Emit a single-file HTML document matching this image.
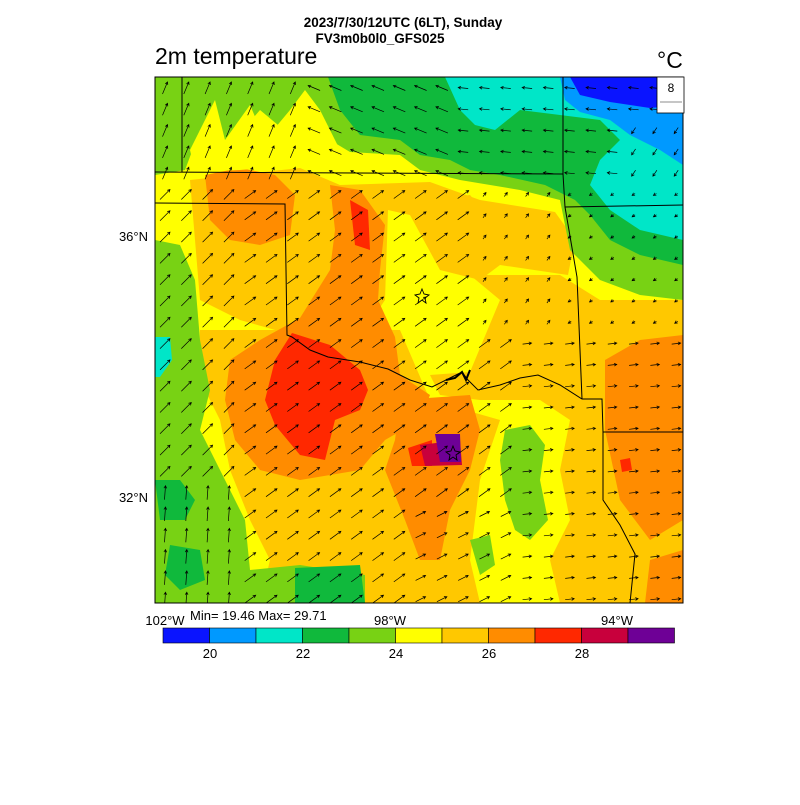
<!DOCTYPE html>
<html><head><style>
body{margin:0;background:#fff;width:800px;height:800px;overflow:hidden;font-family:"Liberation Sans",sans-serif}
</style></head><body>
<svg id="s" width="800" height="800" xmlns="http://www.w3.org/2000/svg" font-family="Liberation Sans, sans-serif">
<defs><clipPath id="c"><rect x="155" y="77" width="528" height="526"/></clipPath></defs>
<g clip-path="url(#c)">
<rect x="155" y="77" width="528" height="526" fill="#ffff00"/>
<!-- light orange -->
<path d="M190 180 L300 168 L340 185 L430 182 L480 200 L555 212 L575 240 L568 275 L500 265 L480 280 L440 270 L410 215 L388 210 L385 300 L360 337 L300 337 L240 320 L200 300 L195 240Z" fill="#ffc800"/>
<path d="M470 275 L560 275 L600 300 L683 300 L683 603 L560 603 L550 560 L570 520 L560 470 L570 420 L540 400 L480 400 L440 395 L430 375 L470 372 L500 300Z" fill="#ffc800"/>
<path d="M200 330 L400 330 L430 400 L500 420 L480 480 L470 560 L480 603 L260 603 L270 560 L250 520 L230 470 L220 420 L200 380Z" fill="#ffc800"/>
<path d="M430 200 L470 195 L500 230 L480 250 L440 245Z" fill="#ffc800"/>
<!-- orange -->
<path d="M205 175 L240 168 L275 175 L295 195 L290 235 L260 245 L230 240 L210 220Z" fill="#ff8c00"/>
<path d="M330 185 L360 190 L385 225 L380 270 L378 300 L395 337 L400 375 L430 395 L420 420 L385 440 L360 470 L300 480 L260 470 L235 440 L225 400 L230 360 L260 340 L300 318 L330 270 L335 230Z" fill="#ff8c00"/>
<path d="M400 400 L470 395 L480 430 L470 470 L450 510 L440 560 L420 560 L405 520 L385 470 L395 440Z" fill="#ff8c00"/>
<path d="M605 360 L640 340 L683 335 L683 520 L650 540 L620 500 L605 430Z" fill="#ff8c00"/>
<path d="M650 560 L683 550 L683 603 L645 603Z" fill="#ff8c00"/>
<!-- top greens -->
<path d="M155 77 L683 77 L683 300 L640 295 L600 280 L570 250 L560 200 L520 190 L460 180 L420 170 L400 155 L350 152 L330 140 L310 115 L290 135 L260 110 L230 145 L200 130 L185 170 L155 175Z" fill="#78d214"/>
<path d="M328 77 L683 77 L683 265 L640 255 L610 240 L590 215 L575 200 L545 185 L500 175 L470 170 L450 160 L420 155 L400 140 L360 135 L340 110Z" fill="#10b93c"/>
<path d="M445 77 L683 77 L683 240 L640 230 L610 210 L590 185 L600 160 L620 140 L600 120 L560 115 L520 110 L495 130 L475 125 L460 110Z" fill="#00e6c8"/>
<path d="M560 77 L683 77 L683 165 L660 150 L630 135 L610 120 L580 112 L565 100Z" fill="#0099ff"/>
<path d="M570 77 L683 77 L683 105 L650 108 L610 102 L580 95Z" fill="#0a14ff"/>
<!-- yellow fingers in top-left -->
<path d="M190 150 L215 100 L225 140 L250 105 L265 140 L290 110 L305 90 L320 110 L335 140 L345 160 L300 165 L240 170 L195 172Z" fill="#ffff00"/>
<!-- left greens -->
<path d="M155 240 L180 245 L195 280 L200 340 L210 390 L200 430 L220 470 L245 520 L250 570 L300 565 L365 575 L365 603 L155 603Z" fill="#78d214"/>
<path d="M155 480 L180 480 L195 500 L185 520 L160 520Z" fill="#10b93c"/>
<path d="M170 545 L200 550 L205 580 L180 590 L165 575Z" fill="#10b93c"/>
<path d="M295 568 L360 565 L365 603 L295 603Z" fill="#10b93c"/>
<path d="M155 337 L170 337 L172 360 L160 377 L155 377Z" fill="#00e6c8"/>
<path d="M155 360 L175 360 L175 380 L155 380Z" fill="#10b93c" opacity="0"/>
<!-- east-center green specks -->
<path d="M505 430 L530 425 L545 445 L540 480 L548 520 L530 540 L515 530 L505 500 L500 460Z" fill="#78d214"/>
<path d="M470 540 L490 535 L495 565 L480 575Z" fill="#78d214"/>
<!-- red -->
<path d="M292 333 L330 345 L360 370 L368 390 L360 410 L335 420 L325 460 L300 455 L275 425 L265 400 L275 360Z" fill="#ff2800"/>
<path d="M350 200 L368 210 L370 250 L355 245Z" fill="#ff2800"/>
<path d="M620 460 L630 458 L632 470 L622 472Z" fill="#ff2800"/>
<path d="M408 448 L432 440 L432 466 L412 466Z" fill="#ff2800"/>
<path d="M420 445 L460 440 L462 465 L425 466Z" fill="#c8003c"/>
<path d="M435 434 L460 434 L461 462 L440 462Z" fill="#6e0096"/>
</g>
<g id="arr" clip-path="url(#c)" stroke="#000" stroke-width="0.7" fill="none"></g>
<g stroke="#000" stroke-width="1" fill="none" clip-path="url(#c)">
<path d="M182 77 L182 172"/>
<path d="M155 172 L563 174 L563 77"/>
<path d="M563 174 L565 207 L683 205"/>
<path d="M155 203 L285 204 L287 335 L292 337 L310 350 L328 357 L360 362 L388 369 L410 380 L432 387 L450 378 L462 372 L468 380 L478 390 L500 385 L520 378 L538 375 L560 385 L582 399 L602 399 L603 432 L683 432"/>
<path d="M582 399 L577 277 L565 207"/>
<path d="M603 432 L603 500 L620 525 L635 554 L630 603"/>
</g>
<g stroke="#000" stroke-width="2" fill="none"><path d="M446 380 L455 378 L462 372 L466 380 L470 370"/></g>
<g fill="none" stroke="#000" stroke-width="0.9">
<path d="M422 289 L424 294 L429 295 L425 298 L426 303 L422 300 L418 303 L419 298 L415 295 L420 294Z"/>
<path d="M453 446 L455 451 L460 452 L456 455 L457 460 L453 457 L449 460 L450 455 L446 452 L451 451Z"/>
</g>
<rect x="155" y="77" width="528" height="526" fill="none" stroke="#000" stroke-width="1"/>
<rect x="657" y="77" width="27" height="36" fill="#fff" stroke="#000" stroke-width="0.8"/>
<text x="671" y="92" font-size="12" text-anchor="middle">8</text>
<line x1="660" y1="102" x2="682" y2="102" stroke="#666" stroke-width="0.8"/>
<text x="403" y="27" font-size="13.5" font-weight="bold" text-anchor="middle">2023/7/30/12UTC (6LT), Sunday</text>
<text x="380" y="43" font-size="13.5" font-weight="bold" text-anchor="middle">FV3m0b0l0_GFS025</text>
<text x="155" y="64" font-size="23">2m temperature</text>
<text x="657" y="68" font-size="23">°C</text>
<text x="148" y="241" font-size="13" text-anchor="end">36°N</text>
<text x="148" y="502" font-size="13" text-anchor="end">32°N</text>
<text x="165" y="625" font-size="13" text-anchor="middle">102°W</text>
<text x="390" y="625" font-size="13" text-anchor="middle">98°W</text>
<text x="617" y="625" font-size="13" text-anchor="middle">94°W</text>
<text x="190" y="620" font-size="13">Min= 19.46 Max= 29.71</text>
<g id="cb" stroke="#000" stroke-width="0.6"></g>
<g font-size="13" text-anchor="middle">
<text x="210" y="658">20</text><text x="303" y="658">22</text><text x="396" y="658">24</text><text x="489" y="658">26</text><text x="582" y="658">28</text>
</g>
</svg>
<script>
var ns="http://www.w3.org/2000/svg";
var cols=["#0a14ff","#0099ff","#00e6c8","#10b93c","#78d214","#ffff00","#ffc800","#ff8c00","#ff2800","#c8003c","#6e0096"];
var cb=document.getElementById("cb");
for(var i=0;i<11;i++){var r=document.createElementNS(ns,"rect");r.setAttribute("x",163+i*46.5);r.setAttribute("y",628);r.setAttribute("width",46.5);r.setAttribute("height",15);r.setAttribute("fill",cols[i]);cb.appendChild(r);}
function field(x,y){
 // returns [u,v] in px (v positive = down)
 var u,v;
 if(x>300&&y<190){ // westward flow
   var s=(x<450)?12:10; u=-s; v=(x<450)?-5:-1; if(x>620&&y>130){u=-4;v=6;}
 } else if(y<190){u=5;v=-12;}
 else if(x>480&&y<330){u=(x>560?-3:3);v=(x>560?2:-4);}
 else if(x>520){u=9;v=-1;}
 else if(x<250&&y>480){u=1;v=-14;}
 else {u=11;v=-8; if(x<250){u=10;v=-10;} if(y>500&&x>400){u=10;v=-5;}}
 return [u,v];
}
var g=document.getElementById("arr"),d="";
for(var y=88;y<603;y+=21.3)for(var x=165;x<683;x+=21.3){
 var f=field(x,y),u=f[0],v=f[1];
 var x1=x-u/2,y1=y-v/2,x2=x+u/2,y2=y+v/2;
 var h=3,ang=Math.atan2(v,u);
 d+="M"+x1.toFixed(1)+" "+y1.toFixed(1)+"L"+x2.toFixed(1)+" "+y2.toFixed(1)+
 "M"+(x2-h*Math.cos(ang-0.5)).toFixed(1)+" "+(y2-h*Math.sin(ang-0.5)).toFixed(1)+"L"+x2.toFixed(1)+" "+y2.toFixed(1)+"L"+(x2-h*Math.cos(ang+0.5)).toFixed(1)+" "+(y2-h*Math.sin(ang+0.5)).toFixed(1);
}
var p=document.createElementNS(ns,"path");p.setAttribute("d",d);g.appendChild(p);
</script>
</body></html>
